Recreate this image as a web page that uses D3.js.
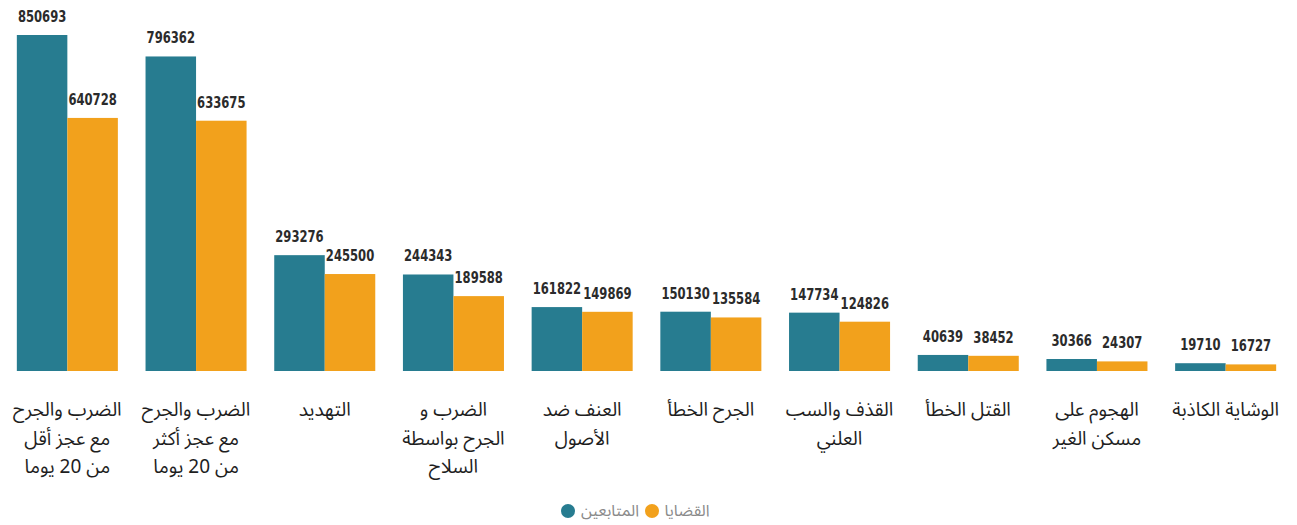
<!DOCTYPE html>
<html lang="ar">
<head>
<meta charset="utf-8">
<script src="https://cdn.jsdelivr.net/npm/d3@7"></script>
<style>
  html, body { margin: 0; padding: 0; background: #ffffff; }
  svg { display: block; }
</style>
</head>
<body>
<svg id="chart" width="1297" height="525"></svg>
<script>
// Offence categories (label lines), and the two series per category
const categories = [
  ["الضرب والجرح", "مع عجز أقل", "من 20 يوما"],
  ["الضرب والجرح", "مع عجز أكثر", "من 20 يوما"],
  ["التهديد"],
  ["الضرب و", "الجرح بواسطة", "السلاح"],
  ["العنف ضد", "الأصول"],
  ["الجرح الخطأ"],
  ["القذف والسب", "العلني"],
  ["القتل الخطأ"],
  ["الهجوم على", "مسكن الغير"],
  ["الوشاية الكاذبة"]
];
const prosecuted = [850693, 796362, 293276, 244343, 161822, 150130, 147734, 40639, 30366, 19710];
const cases      = [640728, 633675, 245500, 189588, 149869, 135584, 124826, 38452, 24307, 16727];
const seriesNames = ["المتابعين", "القضايا"];
const seriesColors = ["#277c90", "#f2a11c"];

const svg = d3.select("#chart");
const baseY = 371, topY = 35;

const rows = categories.map((c, i) => ({ i, lines: c, values: [prosecuted[i], cases[i]] }));

const x = d3.scaleBand()
  .domain(d3.range(categories.length))
  .range([3, 1290])
  .paddingInner(0.215)
  .paddingOuter(0.1075);

const xs = d3.scaleBand()
  .domain([0, 1])
  .range([0, x.bandwidth()]);

const y = d3.scaleLinear()
  .domain([0, d3.max(prosecuted)])
  .range([baseY, topY]);

const groups = svg.append("g").selectAll("g")
  .data(rows)
  .join("g")
  .attr("transform", d => `translate(${x(d.i)},0)`);

const bars = groups.selectAll("g.bar")
  .data(d => d.values.map((v, k) => ({ k, v })))
  .join("g")
  .attr("class", "bar");

bars.append("rect")
  .attr("x", d => xs(d.k))
  .attr("width", xs.bandwidth())
  .attr("y", d => y(d.v))
  .attr("height", d => baseY - y(d.v))
  .attr("fill", d => seriesColors[d.k]);

// Value labels: a tall, narrow numeral face
bars.append("text")
  .attr("transform", d => `translate(${xs(d.k) + xs.bandwidth() / 2},${y(d.v) - 13}) scale(0.86,1)`)
  .attr("text-anchor", "middle")
  .attr("font-family", "'DejaVu Sans Condensed', 'DejaVu Sans', sans-serif")
  .attr("font-stretch", "condensed")
  .attr("font-weight", 600)
  .attr("font-size", 15)
  .attr("fill", "#2b2b2b")
  .text(d => d.v);

// Category labels under each group
const labels = groups.append("text")
  .attr("text-anchor", "middle")
  .attr("direction", "rtl")
  .attr("font-family", "'Noto Sans Arabic', 'DejaVu Sans', sans-serif")
  .attr("font-size", 19)
  .attr("fill", "#1e1e1e");

labels.selectAll("tspan")
  .data(d => d.lines)
  .join("tspan")
  .attr("x", x.bandwidth() / 2)
  .attr("y", (d, j) => 416 + j * 28.5)
  .text(d => d);

// Legend
const legend = svg.append("g").attr("transform", "translate(0,511)");
const legendItems = [
  { name: seriesNames[0], color: seriesColors[0], cx: 568, tx: 610 },
  { name: seriesNames[1], color: seriesColors[1], cx: 652, tx: 687 }
];
legendItems.forEach(it => {
  legend.append("circle").attr("cx", it.cx).attr("cy", 0).attr("r", 7).attr("fill", it.color);
  legend.append("text")
    .attr("x", it.tx).attr("y", 5)
    .attr("text-anchor", "middle")
    .attr("font-family", "'Noto Sans Arabic', 'DejaVu Sans', sans-serif")
    .attr("font-size", 16)
    .attr("fill", "#8a8a8a")
    .text(it.name);
});
</script>
</body>
</html>
